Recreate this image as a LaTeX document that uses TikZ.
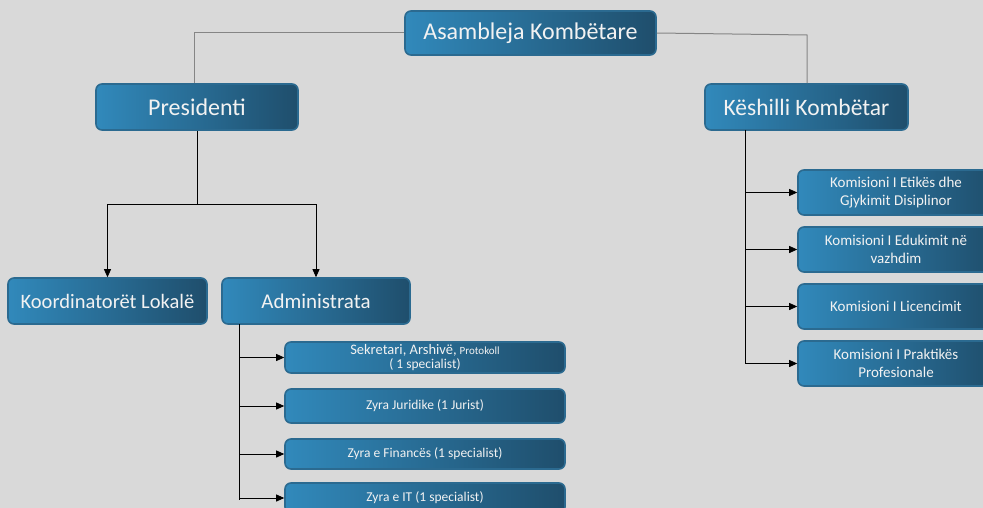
\documentclass[tikz,border=0pt]{standalone}
\usepackage{fontspec}
\setmainfont{Carlito}
\usetikzlibrary{arrows.meta}
\definecolor{bg}{HTML}{D9D9D9}
\definecolor{boxL}{HTML}{3189BB}
\definecolor{boxR}{HTML}{1F4E6C}
\definecolor{boxB}{HTML}{2B6A90}
\definecolor{txt}{HTML}{F2F2F2}
\definecolor{grayline}{HTML}{858585}
\tikzset{
  box/.style={draw=boxB, line width=1.6pt, rounded corners=6pt, left color=boxL, right color=boxR,
    text=txt, inner sep=0pt, align=center},
  conn/.style={draw=black, line width=0.8pt},
  topconn/.style={draw=grayline, line width=1pt},
  arr/.style={conn, -{Triangle[length=8pt,width=7pt]}}
}
\begin{document}
\begin{tikzpicture}[x=1pt,y=-1pt]
\fill[bg] (0,0) rectangle (983,508);
\useasboundingbox (0,0) rectangle (983,508);
% top level
\node[box, minimum width=251, minimum height=44, font=\fontsize{24}{27}\selectfont] (asm) at (530.5,33) {Asambleja Kombëtare};
\node[box, minimum width=202, minimum height=46, font=\fontsize{24}{27}\selectfont] (pres) at (197,107) {Presidenti};
\node[box, minimum width=203, minimum height=46, font=\fontsize{23.5}{27}\selectfont] (kesh) at (806.5,107) {Këshilli Kombëtar};
\node[box, minimum width=199, minimum height=46, font=\fontsize{20.5}{24}\selectfont] (koord) at (107.5,301) {Koordinatorët Lokalë};
\node[box, minimum width=188, minimum height=46, font=\fontsize{21}{24}\selectfont] (adm) at (316,301) {Administrata};
% commissions
\begin{scope}[every node/.style={box, minimum width=196, minimum height=45, font=\fontsize{15}{18}\selectfont}]
\node (k1) at (896,192.5) {Komisioni I Etikës dhe\\Gjykimit Disiplinor};
\node (k2) at (896,249.5) {Komisioni I Edukimit në\\vazhdim};
\node (k3) at (896,306.5) {Komisioni I Licencimit};
\node (k4) at (896,363.5) {Komisioni I Praktikës\\Profesionale};
\end{scope}
% administration offices
\begin{scope}[every node/.style={box, minimum width=280, font=\fontsize{13.5}{14}\selectfont}]
\node[minimum height=31] (z1) at (425,357.5) {{\fontsize{14.5}{15}\selectfont Sekretari, Arshivë,} {\fontsize{11}{12}\selectfont Protokoll}\\( 1 specialist)};
\node[minimum height=34] (z2) at (425,406) {Zyra Juridike (1 Jurist)};
\node[minimum height=30] (z3) at (425,454) {Zyra e Financës (1 specialist)};
\node[minimum height=30] (z4) at (425,498) {Zyra e IT (1 specialist)};
\end{scope}
% connectors top
\coordinate (tl) at (194,33);
\coordinate (tr) at (807,35);
\draw[topconn] (asm.west) -- (tl) -- (pres.north -| tl);
\draw[topconn] (asm.east) -- (tr) -- (kesh.north -| tr);
% presidenti
\coordinate (pj) at (197,204);
\draw[conn] (pres.south) -- (pj);
\draw[arr] (pj) -| (koord.north);
\draw[arr] (pj) -| (adm.north);
% administrata
\coordinate (ab) at (239,324);
\draw[conn] (ab) -- (239,500);
\draw[arr] (ab |- z1.west) -- (z1.west);
\draw[arr] (ab |- z2.west) -- (z2.west);
\draw[arr] (ab |- z3.west) -- (z3.west);
\draw[arr] (ab |- z4.west) -- (z4.west);
% keshilli
\coordinate (kb) at (745,130);
\draw[conn] (kb) -- (kb |- k4.west);
\draw[arr] (kb |- k1.west) -- (k1.west);
\draw[arr] (kb |- k2.west) -- (k2.west);
\draw[arr] (kb |- k3.west) -- (k3.west);
\draw[arr] (kb |- k4.west) -- (k4.west);
\end{tikzpicture}
\end{document}
